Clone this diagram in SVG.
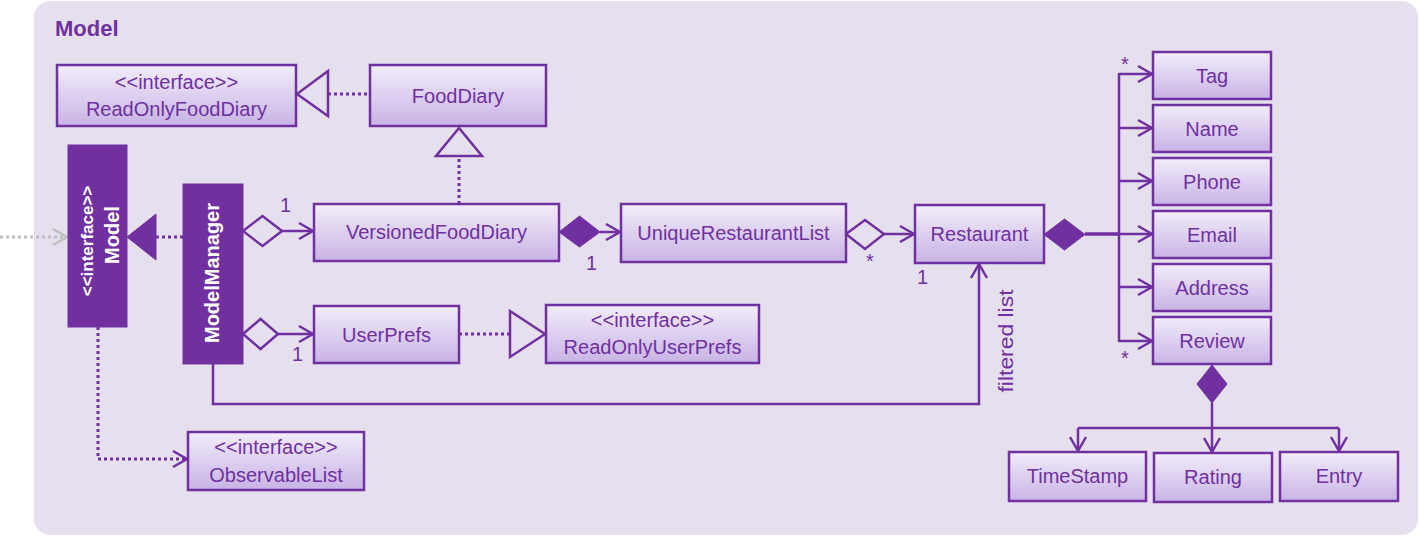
<svg xmlns="http://www.w3.org/2000/svg" width="1420" height="537" viewBox="0 0 1420 537">
<style>
.box{fill:url(#grad);stroke:#7030A0;stroke-width:2.5}
.dark{fill:#7030A0;stroke:#7030A0;stroke-width:1}
.t{font-family:"Liberation Sans",Arial,sans-serif;font-size:20px;fill:#7030A0;text-anchor:middle}
.w{font-family:"Liberation Sans",Arial,sans-serif;font-weight:bold;fill:#FFFFFF;text-anchor:middle}
.ln{fill:none;stroke:#7030A0;stroke-width:2.5}
.dot{fill:none;stroke:#7030A0;stroke-width:3;stroke-dasharray:3 3}
.hollow{fill:#E6E0EE;stroke:#7030A0;stroke-width:2.5;stroke-linejoin:miter}
.solid{fill:#7030A0;stroke:#7030A0;stroke-width:1}
.lbl{font-family:"Liberation Sans",Arial,sans-serif;font-size:20px;fill:#7030A0}
</style>
<defs>
<linearGradient id="grad" x1="0" y1="0" x2="0" y2="1">
<stop offset="0" stop-color="#F2EDFA"/>
<stop offset="1" stop-color="#C8B3E5"/>
</linearGradient>
<marker id="arr" markerUnits="userSpaceOnUse" viewBox="0 0 16 18" refX="15" refY="9" markerWidth="16" markerHeight="18" orient="auto" overflow="visible">
<path d="M1,1 L15,9 L1,17" fill="none" stroke="#7030A0" stroke-width="2.5"/>
</marker>
<marker id="arrg" markerUnits="userSpaceOnUse" viewBox="0 0 16 18" refX="15" refY="9" markerWidth="16" markerHeight="18" orient="auto" overflow="visible">
<path d="M1,1 L15,9 L1,17" fill="none" stroke="#BFBFBF" stroke-width="2.5"/>
</marker>
</defs>
<rect x="0" y="0" width="1420" height="537" fill="#FFFFFF"/>
<rect id="panel" x="34" y="1" width="1384" height="534" rx="16" fill="#E6E0EE"/>
<text x="55" y="36" font-family="Liberation Sans,Arial,sans-serif" font-weight="bold" font-size="22" fill="#7030A0">Model</text>

<g id="connectors">
<line x1="0" y1="237" x2="67" y2="237" stroke="#BFBFBF" stroke-width="3" stroke-dasharray="3 3" marker-end="url(#arrg)"/>
<line class="dot" x1="156" y1="237" x2="183" y2="237"/>
<polygon class="solid" points="127,237 156,214 156,260"/>
<polygon class="hollow" points="243,231 262.5,216 282,231 262.5,246"/>
<line class="ln" x1="282" y1="231" x2="313" y2="231" marker-end="url(#arr)"/>
<polygon class="hollow" points="243,334 260.5,319 278,334 260.5,349"/>
<line class="ln" x1="278" y1="334" x2="313" y2="334" marker-end="url(#arr)"/>
<line class="dot" x1="328" y1="94" x2="370" y2="94"/>
<polygon class="hollow" points="297,94 328,71 328,116"/>
<line class="dot" x1="459" y1="204" x2="459" y2="156"/>
<polygon class="hollow" points="459,128 436,156 482,156"/>
<line class="dot" x1="459" y1="334" x2="510" y2="334"/>
<polygon class="hollow" points="545,334 510,311 510,357"/>
<polygon class="solid" points="559,232 579.5,216 600,232 579.5,247"/>
<line class="ln" x1="600" y1="232" x2="620" y2="232" marker-end="url(#arr)"/>
<polygon class="hollow" points="846,234 865,220 884,234 865,249"/>
<line class="ln" x1="884" y1="234" x2="914" y2="234" marker-end="url(#arr)"/>
<polygon class="solid" points="1044,234.5 1064.5,219 1085,234.5 1064.5,250"/>
<line x1="1085" y1="234" x2="1119" y2="234" stroke="#7030A0" stroke-width="3.5"/>
<line class="ln" x1="1119" y1="73" x2="1119" y2="342"/>
<line class="ln" x1="1119" y1="74" x2="1152" y2="74" marker-end="url(#arr)"/>
<line class="ln" x1="1119" y1="128" x2="1152" y2="128" marker-end="url(#arr)"/>
<line class="ln" x1="1119" y1="181" x2="1152" y2="181" marker-end="url(#arr)"/>
<line class="ln" x1="1119" y1="234" x2="1152" y2="234" marker-end="url(#arr)"/>
<line class="ln" x1="1119" y1="287" x2="1152" y2="287" marker-end="url(#arr)"/>
<line class="ln" x1="1119" y1="341" x2="1152" y2="341" marker-end="url(#arr)"/>
<polygon class="solid" points="1212,365 1227,384 1212,403 1197,384"/>
<line class="ln" x1="1212" y1="403" x2="1212" y2="428"/>
<line class="ln" x1="1078" y1="428" x2="1339" y2="428"/>
<line class="ln" x1="1078" y1="428" x2="1078" y2="451" marker-end="url(#arr)"/>
<line class="ln" x1="1212" y1="428" x2="1212" y2="452" marker-end="url(#arr)"/>
<line class="ln" x1="1339" y1="428" x2="1339" y2="451" marker-end="url(#arr)"/>
<polyline class="ln" points="213,364 213,404 979,404 979,264" marker-end="url(#arr)"/>
<polyline class="dot" points="98,327 98,459 187,459"/>
<polyline fill="none" stroke="#7030A0" stroke-width="2.5" points="173,451 187,459 173,467"/>
<text class="lbl" x="280" y="212">1</text>
<text class="lbl" x="292" y="361">1</text>
<text class="lbl" x="586" y="270">1</text>
<text class="lbl" x="866" y="267.5" font-size="22">*</text>
<text class="lbl" x="917" y="284">1</text>
<text class="lbl" x="1121" y="71" font-size="22">*</text>
<text class="lbl" x="1121" y="365" font-size="22">*</text>
<text class="lbl" transform="translate(1013,341) rotate(-90)" text-anchor="middle" font-size="22" textLength="103" lengthAdjust="spacingAndGlyphs">filtered list</text>
</g>

<g id="node-model">
<rect x="68" y="145" width="59" height="182" class="dark"/>
<text class="w" font-size="17" transform="translate(92.5,241) rotate(-90)">&lt;&lt;interface&gt;&gt;</text>
<text class="w" font-size="20" transform="translate(118.5,235) rotate(-90)">Model</text>
</g>
<g id="node-modelmanager">
<rect x="183" y="184" width="60" height="180" class="dark"/>
<text class="w" font-size="20" transform="translate(219,273) rotate(-90)">ModelManager</text>
</g>
<g id="node-readonlyfooddiary">
<rect x="57" y="65" width="239" height="61" class="box"/>
<text class="t" x="176.5" y="89">&lt;&lt;interface&gt;&gt;</text>
<text class="t" x="176.5" y="116">ReadOnlyFoodDiary</text>
</g>
<g id="node-fooddiary">
<rect x="370" y="65" width="176" height="61" class="box"/>
<text class="t" x="458" y="103">FoodDiary</text>
</g>
<g id="node-versionedfooddiary">
<rect x="314" y="204" width="245" height="57" class="box"/>
<text class="t" x="436.5" y="239">VersionedFoodDiary</text>
</g>
<g id="node-uniquerestaurantlist">
<rect x="621" y="204" width="225" height="58" class="box"/>
<text class="t" x="733.5" y="240">UniqueRestaurantList</text>
</g>
<g id="node-restaurant">
<rect x="915" y="205" width="129" height="58" class="box"/>
<text class="t" x="979.5" y="241">Restaurant</text>
</g>
<g id="node-userprefs">
<rect x="314" y="306" width="145" height="57" class="box"/>
<text class="t" x="386.5" y="342">UserPrefs</text>
</g>
<g id="node-readonlyuserprefs">
<rect x="546" y="305" width="213" height="58" class="box"/>
<text class="t" x="652.5" y="327">&lt;&lt;interface&gt;&gt;</text>
<text class="t" x="652.5" y="354">ReadOnlyUserPrefs</text>
</g>
<g id="node-observablelist">
<rect x="188" y="432" width="176" height="58" class="box"/>
<text class="t" x="276" y="454">&lt;&lt;interface&gt;&gt;</text>
<text class="t" x="276" y="482">ObservableList</text>
</g>
<g id="node-tag">
<rect x="1153" y="52" width="118" height="47" class="box"/>
<text class="t" x="1212" y="83">Tag</text>
</g>
<g id="node-name">
<rect x="1153" y="105" width="118" height="47" class="box"/>
<text class="t" x="1212" y="136">Name</text>
</g>
<g id="node-phone">
<rect x="1153" y="158" width="118" height="47" class="box"/>
<text class="t" x="1212" y="189">Phone</text>
</g>
<g id="node-email">
<rect x="1153" y="211" width="118" height="47" class="box"/>
<text class="t" x="1212" y="242">Email</text>
</g>
<g id="node-address">
<rect x="1153" y="264" width="118" height="47" class="box"/>
<text class="t" x="1212" y="295">Address</text>
</g>
<g id="node-review">
<rect x="1153" y="317" width="118" height="47" class="box"/>
<text class="t" x="1212" y="348">Review</text>
</g>
<g id="node-timestamp">
<rect x="1009" y="452" width="137" height="49" class="box"/>
<text class="t" x="1077.5" y="483">TimeStamp</text>
</g>
<g id="node-rating">
<rect x="1154" y="453" width="118" height="49" class="box"/>
<text class="t" x="1213" y="484">Rating</text>
</g>
<g id="node-entry">
<rect x="1280" y="452" width="118" height="49" class="box"/>
<text class="t" x="1339" y="483">Entry</text>
</g>
</svg>
